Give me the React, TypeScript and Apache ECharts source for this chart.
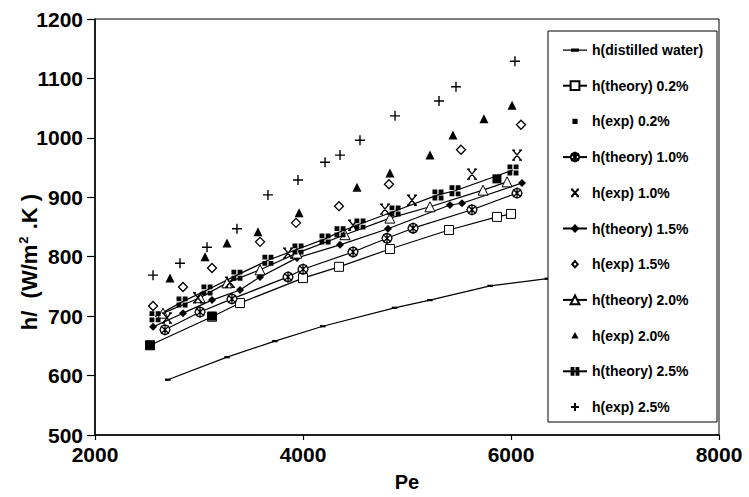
import React, { useEffect, useRef } from "react";
import * as echarts from "echarts";

// ---- data ----
const peWater = [2700, 3270, 3730, 4190, 4880, 5220, 5800, 6350];
const hWater = [593, 631, 658, 683, 714, 727, 751, 763];

const peTheory02 = [2529, 3125, 3394, 4000, 4346, 4836, 5404, 5865, 6000];
const hTheory02 = [651, 699, 722, 764, 783, 813, 845, 867, 872];
const peExp02 = [2529, 3125, 5865];
const hExp02 = [651, 700, 931];

const peTheory10 = [2673, 3010, 3317, 3856, 4000, 4481, 4808, 5058, 5625, 6058];
const hTheory10 = [677, 707, 729, 766, 779, 808, 831, 848, 879, 907];
const peExp10 = [2692, 2990, 3298, 3856, 4481, 4788, 5048, 5625, 6058];
const hExp10 = [697, 731, 757, 806, 853, 880, 895, 939, 971];

const peTheory15 = [2558, 2846, 3125, 3394, 3587, 3942, 4356, 4817, 5413, 5529, 6106];
const hTheory15 = [682, 705, 727, 744, 766, 798, 820, 847, 887, 890, 924];
const peExp15 = [2558, 2846, 3125, 3587, 3933, 4346, 4827, 5519, 6096];
const hExp15 = [717, 749, 781, 825, 857, 885, 922, 980, 1022];

const peTheory20 = [2654, 3010, 3269, 3587, 3942, 4404, 4836, 5221, 5731, 5962];
const hTheory20 = [705, 731, 756, 778, 806, 837, 865, 884, 912, 926];
const peExp20 = [2721, 3058, 3269, 3567, 3962, 4519, 4836, 5221, 5442, 5740, 6010];
const hExp20 = [764, 800, 823, 842, 874, 917, 941, 971, 1005, 1032, 1055];

const peTheory25 = [2577, 2837, 3077, 3365, 3663, 3952, 4212, 4356, 4548, 4885, 5298, 5462, 6019];
const hTheory25 = [699, 724, 744, 769, 794, 813, 830, 842, 855, 877, 904, 911, 946];
const peExp25 = [2558, 2817, 3077, 3365, 3663, 3952, 4212, 4356, 4548, 4885, 5308, 5471, 6038];
const hExp25 = [769, 789, 816, 847, 904, 929, 959, 971, 996, 1037, 1062, 1086, 1129];

const xTicks = { min: 2000, max: 8000, interval: 2000 };
const yTicks = { min: 500, max: 1200, interval: 100 };

const zip = (xs: number[], ys: number[]) => xs.map((x, i) => [x, ys[i]]);

const FONT = "'Liberation Sans', Arial, Helvetica, sans-serif";

// custom symbols (chart)
const SYM_BAR = "path://M-5,-5 M5,5 M-4,-1.6 L4,-1.6 L4,1.6 L-4,1.6 Z";
const SYM_CIRCLE_AST =
  "path://M0,-5 L3.5,-3.5 L5,0 L3.5,3.5 L0,5 L-3.5,3.5 L-5,0 L-3.5,-3.5 Z M-3.2,-3.2 L3.2,3.2 M3.2,-3.2 L-3.2,3.2 M0,-5 L0,5";
const SYM_ZHE =
  "path://M-4,-4 L4,4 M4,-4 L-4,4 M-5,-4 L-2,-4 M2,-4 L5,-4 M-5,4 L-2,4 M2,4 L5,4";
const SYM_GRID =
  "path://M-5,-5 L-0.6,-5 L-0.6,-0.6 L-5,-0.6 Z M0.6,-5 L5,-5 L5,-0.6 L0.6,-0.6 Z M-5,0.6 L-0.6,0.6 L-0.6,5 L-5,5 Z M0.6,0.6 L5,0.6 L5,5 L0.6,5 Z";
const SYM_PLUS = "path://M-5,0 L5,0 M0,-5 L0,5";

// legend icons
const ICON_WATER = "path://M0,0 M24,11 M0,5 L24,5 L24,6.2 L0,6.2 Z M8,4 L16,4 L16,7.2 L8,7.2 Z";
const ICON_SQ = "path://M-7,-7 M7,7 M-3.3,-3.3 L3.3,-3.3 L3.3,3.3 L-3.3,3.3 Z";
const ICON_ZHE = "path://M-7,-7 M7,7 M-4,-4.3 L4,4.3 M4,-4.3 L-4,4.3 M-5,-4.3 L-2,-4.3 M2,-4.3 L5,-4.3 M-5,4.3 L-2,4.3 M2,4.3 L5,4.3";
const ICON_DIA = "path://M-7,-7 M7,7 M0,-4 L3.6,0 L0,4 L-3.6,0 Z";
const ICON_TRI = "path://M-7,-7 M7,7 M0,-4.5 L4.5,3.8 L-4.5,3.8 Z";
const ICON_PLUS = "path://M-7,-7 M7,7 M-5,0 L5,0 M0,-5 L0,5";

export default function App() {
  const ref = useRef<HTMLDivElement>(null);

  useEffect(() => {
    if (!ref.current) return;
    const chart = echarts.init(ref.current, null, { renderer: "svg" });

    const lineBase = (name: string, xs: number[], ys: number[], symbol: string, size: number | number[], fill: string, extra: any = {}) => ({
      name,
      type: "line",
      data: zip(xs, ys),
      symbol,
      symbolSize: size,
      showSymbol: true,
      lineStyle: { color: "#000", width: 1.2 },
      itemStyle: { color: fill, borderColor: "#000", borderWidth: 1 },
      emphasis: { disabled: true },
      z: 3,
      ...extra,
    });
    const scatBase = (name: string, xs: number[], ys: number[], symbol: string, size: number | number[], fill: string, bw = 1) => ({
      name,
      type: "scatter",
      data: zip(xs, ys),
      symbol,
      symbolSize: size,
      itemStyle: { color: fill, borderColor: "#000", borderWidth: bw, opacity: 1 },
      emphasis: { disabled: true },
      z: 4,
    });

    const series = [
      lineBase("h(distilled water)", peWater, hWater, SYM_BAR, 7, "#000", { itemStyle: { color: "#000", borderWidth: 0 } }),
      lineBase("h(theory) 0.2%", peTheory02, hTheory02, "rect", 9, "#fff"),
      scatBase("h(exp) 0.2%", peExp02, hExp02, "rect", 9, "#000", 0),
      lineBase("h(theory) 1.0%", peTheory10, hTheory10, SYM_CIRCLE_AST, 10, "#fff", { itemStyle: { color: "#fff", borderColor: "#000", borderWidth: 1.3 } }),
      scatBase("h(exp) 1.0%", peExp10, hExp10, SYM_ZHE, 10, "none", 1.4),
      lineBase("h(theory) 1.5%", peTheory15, hTheory15, "diamond", 8, "#000", { itemStyle: { color: "#000", borderWidth: 0 } }),
      scatBase("h(exp) 1.5%", peExp15, hExp15, "diamond", 9, "#fff", 1.3),
      lineBase("h(theory) 2.0%", peTheory20, hTheory20, "triangle", 10, "#fff"),
      scatBase("h(exp) 2.0%", peExp20, hExp20, "triangle", 9, "#000", 0),
      lineBase("h(theory) 2.5%", peTheory25, hTheory25, SYM_GRID, 11, "#000", { itemStyle: { color: "#000", borderWidth: 0 } }),
      scatBase("h(exp) 2.5%", peExp25, hExp25, SYM_PLUS, 10, "none", 1.4),
    ];

    const legendIcons: Record<string, string> = {
      "h(distilled water)": ICON_WATER,
      "h(exp) 0.2%": ICON_SQ,
      "h(exp) 1.0%": ICON_ZHE,
      "h(exp) 1.5%": ICON_DIA,
      "h(exp) 2.0%": ICON_TRI,
      "h(exp) 2.5%": ICON_PLUS,
    };

    const labelStyle = { fontFamily: FONT, fontWeight: "bold", fontSize: 21, color: "#000" };

    const option: any = {
      animation: false,
      backgroundColor: "#fff",
      textStyle: { fontFamily: FONT },
      grid: { left: 95, right: 30, top: 19, bottom: 62, show: true, borderColor: "#000", borderWidth: 1, backgroundColor: "transparent" },
      xAxis: {
        type: "value",
        min: xTicks.min,
        max: xTicks.max,
        interval: xTicks.interval,
        name: "Pe",
        nameLocation: "middle",
        nameGap: 37,
        nameTextStyle: { ...labelStyle, fontSize: 20 },
        axisLine: { show: true, lineStyle: { color: "#000", width: 1.5 } },
        axisTick: { show: true, inside: false, length: 5, lineStyle: { color: "#000", width: 1.2 } },
        axisLabel: { ...labelStyle, margin: 9, formatter: (v: number) => String(v) },
        splitLine: { show: false },
      },
      yAxis: {
        type: "value",
        min: yTicks.min,
        max: yTicks.max,
        interval: yTicks.interval,
        axisLine: { show: true, lineStyle: { color: "#000", width: 1.5 } },
        axisTick: { show: true, inside: false, length: 8, lineStyle: { color: "#000", width: 1.2 } },
        axisLabel: { ...labelStyle, margin: 12, formatter: (v: number) => String(v) },
        splitLine: { show: false },
      },
      legend: {
        orient: "vertical",
        left: 562,
        top: 42,
        padding: 0,
        itemWidth: 24,
        itemHeight: 11,
        itemGap: 19.7,
        selectedMode: false,
        textStyle: { fontFamily: FONT, fontWeight: "bold", fontSize: 14, color: "#000", lineHeight: 16 },
        data: series.map((s) => (legendIcons[s.name] ? { name: s.name, icon: legendIcons[s.name] } : { name: s.name })),
        z: 6,
      },
      graphic: [
        {
          type: "rect",
          z: 5,
          shape: { x: 548, y: 31, width: 169, height: 391 },
          style: { fill: "#fff", stroke: "#000", lineWidth: 1 },
        },
        {
          type: "text",
          x: 29,
          y: 262,
          rotation: Math.PI / 2,
          z: 5,
          style: {
            text: "{a|h/  (W/m}{s|2}{a| .K )}",
            align: "center",
            verticalAlign: "middle",
            rich: {
              a: { fontFamily: FONT, fontWeight: "bold", fontSize: 22, fill: "#000", lineHeight: 24 },
              s: { fontFamily: FONT, fontWeight: "bold", fontSize: 13, fill: "#000", verticalAlign: "top", lineHeight: 24, padding: [0, 1, 10, 1] },
            },
          },
        },
      ],
      series,
    };

    chart.setOption(option);
    return () => chart.dispose();
  }, []);

  return <div ref={ref} style={{ width: 749, height: 497, position: "absolute", left: 0, top: 0 }} />;
}
